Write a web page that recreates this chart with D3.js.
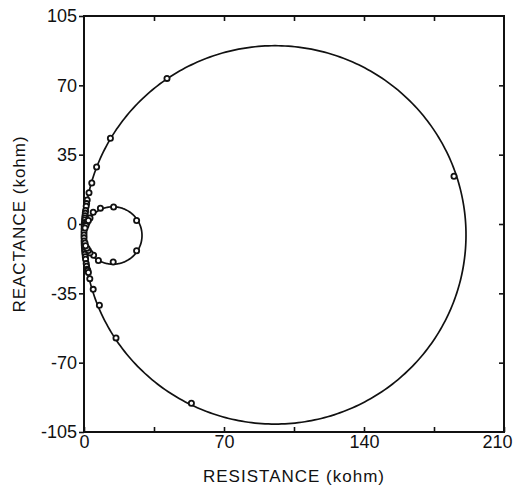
<!DOCTYPE html>
<html>
<head>
<meta charset="utf-8">
<script src="https://cdn.jsdelivr.net/npm/d3@7"></script>
<style>
  html, body { margin: 0; padding: 0; background: #fff; }
  svg { display: block; }
  .tick text { font-family: "Liberation Sans", Arial, sans-serif; font-size: 18px; fill: #111; }
  .tick line { stroke: #111; stroke-width: 1.6; }
  .title { font-family: "Liberation Sans", Arial, sans-serif; font-size: 17px; fill: #111; letter-spacing: 1px; }
</style>
</head>
<body>
<svg id="chart" width="517" height="490"></svg>
<script>
// Axis ticks (kohm)
const xTickValues = [0, 35, 70, 105, 140, 175, 210];
const xTickLabels = [0, 70, 140, 210];
const yTickValues = [-105, -70, -35, 0, 35, 70, 105];
const rightTickValues = [-70, -35, 0, 35, 70];
const topTickValues = [35, 70, 105, 140, 175];

// Fitted impedance arcs: centre resistance, centre reactance, radius (kohm)
const largeArcFit = [95.5, -5.5, 95.5];
const smallArcFit = [14.5, -5.8, 14.5];

// Measured points on the large arc
const largeResistance = [41.5, 185, 13.2, 6.3, 3.9, 2.5, 1.6, 1.3, 1.1, 0.8, 0.65, 0.5, 0.4, 0.3, 0.2, 0.15, 0.1, 0.05, 0.02, 0, 0.02, 0.05, 0.1, 0.15, 0.2, 0.3, 0.4, 0.5, 0.65, 0.8, 1.1, 1.3, 1.6, 1.9, 2.2, 2.9, 4.6, 7.7, 16, 53.7];
const largeReactance  = [73.5, 24.1, 43.3, 28.8, 20.7, 15.8, 12.1, 10.3, 9.0, 6.8, 5.5, 4.2, 3.0, 2.0, 0.7, -0.2, -1.1, -2.5, -4.0, -5.5, -7.0, -8.6, -9.9, -10.8, -11.7, -13.0, -14.0, -15.2, -16.5, -17.8, -20.0, -21.3, -22.9, -23.5, -24.5, -27.6, -33.0, -41.0, -57.5, -90.5];

// Measured points on the small arc
const smallResistance = [3.0, 4.6, 8.2, 14.8, 26.3, 26.3, 14.6, 7.2, 4.8, 3.0, 2.2, 1.5, 1.5, 1.0, 0.5, 0.5, 0.8, 2.2];
const smallReactance  = [3.0, 5.9, 8.0, 8.6, 1.8, -13.5, -19.2, -18.4, -15.8, -14.6, -13.4, -12.2, 0.6, -0.8, -2.0, -9.6, -11.0, 1.8];

const svg = d3.select("#chart");
const margin = { left: 84, right: 13, top: 16, bottom: 58 };
const W = 517, H = 490;

const x = d3.scaleLinear().domain([0, 210]).range([margin.left, W - margin.right]);
const y = d3.scaleLinear().domain([-105, 105]).range([H - margin.bottom, margin.top]);

// Frame
svg.append("rect")
  .attr("x", x(0)).attr("y", y(105))
  .attr("width", x(210) - x(0)).attr("height", y(-105) - y(105))
  .attr("fill", "none").attr("stroke", "#111").attr("stroke-width", 2);

// Bottom axis: inward ticks, labels on majors
svg.append("g")
  .attr("transform", `translate(0,${y(-105)})`)
  .call(d3.axisBottom(x).tickValues(xTickValues).tickSizeInner(-5).tickSizeOuter(0).tickPadding(3)
    .tickFormat(d => xTickLabels.includes(d) ? String(d) : ""))
  .call(g => g.select(".domain").remove())
  .call(g => g.selectAll(".tick").filter(d => d === 210).select("text")
    .attr("text-anchor", "end").attr("x", 8));

// Top axis: inward ticks only
svg.append("g")
  .attr("transform", `translate(0,${y(105)})`)
  .call(d3.axisTop(x).tickValues(topTickValues).tickSizeInner(-5).tickSizeOuter(0).tickFormat(""))
  .call(g => g.select(".domain").remove());

// Left axis: outward ticks with labels
svg.append("g")
  .attr("transform", `translate(${x(0)},0)`)
  .call(d3.axisLeft(y).tickValues(yTickValues).tickSizeInner(5).tickSizeOuter(0).tickPadding(2)
    .tickFormat(d => String(d)))
  .call(g => g.select(".domain").remove());

// Right axis: inward ticks only
svg.append("g")
  .attr("transform", `translate(${x(210)},0)`)
  .call(d3.axisRight(y).tickValues(rightTickValues).tickSizeInner(-5).tickSizeOuter(0).tickFormat(""))
  .call(g => g.select(".domain").remove());

// Fitted arcs
const line = d3.line().x(d => x(d[0])).y(d => y(d[1])).curve(d3.curveLinearClosed);
function arcPoints(fit) {
  const [cx, cy, r] = fit;
  return d3.range(0, 360, 1).map(a => {
    const t = a * Math.PI / 180;
    return [cx + r * Math.cos(t), cy + r * Math.sin(t)];
  });
}
[largeArcFit, smallArcFit].forEach(fit => {
  svg.append("path")
    .attr("d", line(arcPoints(fit)))
    .attr("fill", "none").attr("stroke", "#111").attr("stroke-width", 1.7);
});

// Measured points (open circles)
function drawPoints(rs, xs) {
  svg.append("g").selectAll("circle")
    .data(rs.map((r, i) => [r, xs[i]]))
    .join("circle")
    .attr("cx", d => x(d[0])).attr("cy", d => y(d[1]))
    .attr("r", 2.6)
    .attr("fill", "#fff").attr("stroke", "#111").attr("stroke-width", 1.8);
}
drawPoints(largeResistance, largeReactance);
drawPoints(smallResistance, smallReactance);

// Axis titles
svg.append("text").attr("class", "title")
  .attr("x", (x(0) + x(210)) / 2).attr("y", 482)
  .attr("text-anchor", "middle")
  .text("RESISTANCE (kohm)");

svg.append("text").attr("class", "title")
  .attr("transform", `translate(25,${(y(105) + y(-105)) / 2}) rotate(-90)`)
  .attr("text-anchor", "middle")
  .text("REACTANCE (kohm)");
</script>
</body>
</html>
